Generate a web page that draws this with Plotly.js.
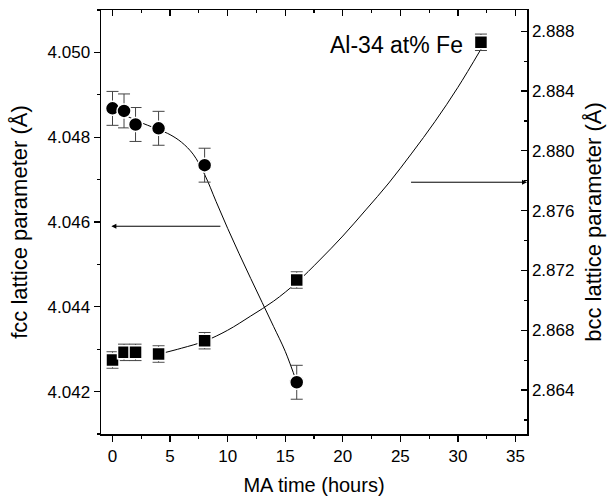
<!DOCTYPE html>
<html>
<head>
<meta charset="utf-8">
<script src="https://cdn.plot.ly/plotly-3.0.1.min.js"></script>
<style>html,body{margin:0;padding:0;background:#fff;}#chart{width:616px;height:496px;}</style>
</head>
<body>
<div id="chart"></div>
<script>
// MA time (hours)
const times = [0, 1, 2, 4, 8, 16];
const bccTimes = [0, 1, 2, 4, 8, 16, 32];
// fcc lattice parameter (Å), left axis
const fccValues = [4.04868, 4.04862, 4.04830, 4.04821, 4.04734, 4.04222];
const fccErr = [0.0004, 0.0004, 0.0004, 0.0004, 0.0004, 0.0004];
// bcc lattice parameter (Å), right axis
const bccValues = [2.86601, 2.86652, 2.86652, 2.86641, 2.86730, 2.87136, 2.88726];
const bccErr = [0.00055, 0.00055, 0.00055, 0.00055, 0.00055, 0.00055, 0.00055];
// guide curves
const fccFitT = [0, 2, 4, 5, 6, 7, 8, 9, 10, 11, 12, 13, 14, 15, 16];
const fccFitV = [4.04868, 4.04840, 4.04818, 4.04806, 4.04788, 4.04760, 4.04712, 4.04648, 4.04585, 4.04525, 4.04467, 4.04410, 4.04353, 4.04295, 4.04222];
const bccFitT = [4, 6, 8, 10, 12, 14, 16, 18, 20, 22, 24, 26, 28, 30, 32];
const bccFitV = [2.86640, 2.86680, 2.86727, 2.86800, 2.86895, 2.86995, 2.87120, 2.87270, 2.87430, 2.87605, 2.87785, 2.87985, 2.88195, 2.88425, 2.88680];
const xTickVals = [0, 5, 10, 15, 20, 25, 30, 35];
const fccRange = [4.041, 4.051];
const bccRange = [2.86106, 2.88942];
const xRange = [-1, 36];
const label = "Al-34 at% Fe";

const FONT = "Arial, 'Liberation Sans', Helvetica, sans-serif";

const traces = [
  {x: fccFitT, y: fccFitV, mode: 'lines', line: {color: '#000', width: 1, shape: 'spline', smoothing: 1}, xaxis: 'x', yaxis: 'y', hoverinfo: 'skip'},
  {x: bccFitT, y: bccFitV, mode: 'lines', line: {color: '#000', width: 1, shape: 'spline', smoothing: 1}, xaxis: 'x', yaxis: 'y2', hoverinfo: 'skip'},
  {x: times, y: fccValues, mode: 'markers', xaxis: 'x', yaxis: 'y',
   marker: {symbol: 'circle', size: 14, color: '#000', line: {color: '#fff', width: 1.5}},
   error_y: {type: 'data', array: fccErr, visible: true, color: '#444', thickness: 1, width: 6}},
  {x: bccTimes, y: bccValues, mode: 'markers', xaxis: 'x', yaxis: 'y2',
   marker: {symbol: 'square', size: 13, color: '#000', line: {color: '#fff', width: 1.5}},
   error_y: {type: 'data', array: bccErr, visible: true, color: '#444', thickness: 1, width: 6}},
  // invisible trace to activate the top mirror axis
  {x: xRange, y: fccRange, mode: 'markers', marker: {opacity: 0}, xaxis: 'x2', yaxis: 'y', hoverinfo: 'skip'}
];

const layout = {
  width: 616, height: 496,
  margin: {l: 101, r: 89, t: 10, b: 62},
  paper_bgcolor: '#fff', plot_bgcolor: '#fff',
  showlegend: false,
  font: {family: FONT, color: '#000', size: 17},
  xaxis: {
    range: xRange, tickvals: xTickVals, ticks: 'outside', ticklen: 6, tickwidth: 1.2, tickcolor: '#000',
    minor: {dtick: 2.5, tick0: 0, ticks: 'outside', ticklen: 3, tickwidth: 1.2, tickcolor: '#000'},
    showline: true, linecolor: '#000', linewidth: 1.5, showgrid: false, zeroline: false,
    tickfont: {size: 17}, title: {text: 'MA time (hours)', font: {size: 20}, standoff: 13},
    anchor: 'y'
  },
  xaxis2: {
    range: xRange, overlaying: 'x', side: 'top', anchor: 'y', tickvals: xTickVals, ticks: 'inside', ticklen: 6, tickwidth: 1.2, tickcolor: '#000',
    minor: {dtick: 2.5, tick0: 0, ticks: 'inside', ticklen: 3, tickwidth: 1.2, tickcolor: '#000'},
    showticklabels: false, showline: true, linecolor: '#000', linewidth: 1.5, showgrid: false, zeroline: false
  },
  yaxis: {
    range: fccRange, tick0: 4.042, dtick: 0.002, tickformat: '.3f', ticks: 'outside', ticklen: 6, tickwidth: 1.2, tickcolor: '#000',
    minor: {dtick: 0.001, ticks: 'outside', ticklen: 3, tickwidth: 1.2, tickcolor: '#000'},
    showline: true, linecolor: '#000', linewidth: 1.5, showgrid: false, zeroline: false,
    tickfont: {size: 17}, title: {text: 'fcc lattice parameter (Å)', font: {size: 22}, standoff: 14}
  },
  yaxis2: {
    range: bccRange, overlaying: 'y', side: 'right', anchor: 'x', tick0: 2.864, dtick: 0.004, tickformat: '.3f',
    ticks: 'inside', ticklen: 6, tickwidth: 1.2, tickcolor: '#000',
    minor: {dtick: 0.002, ticks: 'inside', ticklen: 3, tickwidth: 1.2, tickcolor: '#000'},
    showline: true, linecolor: '#000', linewidth: 1.5, showgrid: false, zeroline: false,
    tickfont: {size: 17}, title: {text: 'bcc lattice parameter (Å)', font: {size: 22}, standoff: 12}
  },
  annotations: [
    {x: 24.7, y: 4.05017, xref: 'x', yref: 'y', text: label, showarrow: false, font: {size: 23, family: FONT}},
    {x: -0.1, y: 4.0459, ax: 9.5, ay: 4.0459, xref: 'x', yref: 'y', axref: 'x', ayref: 'y', text: '',
     showarrow: true, arrowhead: 2, arrowsize: 1, arrowwidth: 1, arrowcolor: '#000'},
    {x: 36, y: 2.8779, ax: 25.8, ay: 2.8779, xref: 'x', yref: 'y2', axref: 'x', ayref: 'y2', text: '',
     showarrow: true, arrowhead: 2, arrowsize: 1, arrowwidth: 1, arrowcolor: '#000'}
  ]
};

Plotly.newPlot('chart', traces, layout, {staticPlot: true, displayModeBar: false});
</script>
</body>
</html>
